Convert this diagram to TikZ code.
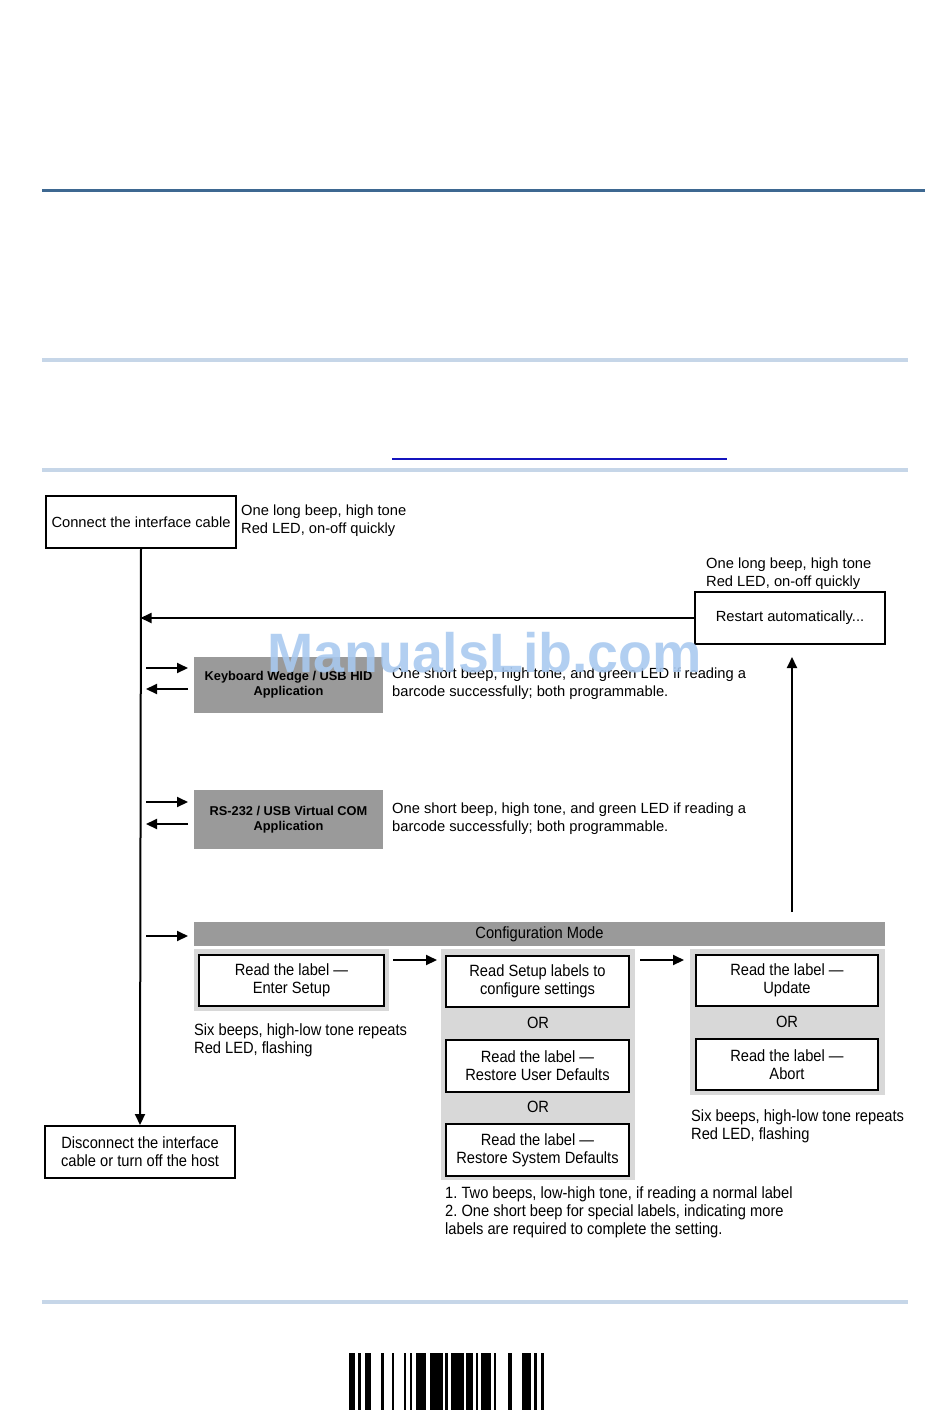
\documentclass[tikz,border=0pt]{standalone}
\usepackage{fontspec}
\setmainfont{Liberation Sans}[Ligatures=TeX]
\newfontfamily\nar{Liberation Sans}[FakeStretch=0.9,Ligatures=TeX]
\usetikzlibrary{arrows.meta}
\definecolor{topblue}{RGB}{62,104,145}
\definecolor{sepblue}{RGB}{198,214,232}
\definecolor{linkblue}{RGB}{20,20,190}
\definecolor{boxgray}{RGB}{154,154,154}
\definecolor{panelgray}{RGB}{216,216,216}
\definecolor{wmblue}{RGB}{168,201,240}
\frenchspacing
\begin{document}
\frenchspacing
\begin{tikzpicture}[x=1pt,y=-1pt,
  up/.style={font=\fontsize{14.7}{18}\selectfont, inner sep=0pt, align=left},
  lo/.style={font=\nar\fontsize{16.3}{18}\selectfont, inner sep=0pt, align=left},
  bigbox/.style={draw, line width=2pt, fill=white, minimum width=190pt, minimum height=52pt, inner sep=0pt, align=center, font=\fontsize{14.7}{18}\selectfont},
  graybox/.style={fill=boxgray, minimum width=189pt, inner sep=0pt, align=center, font=\bfseries\fontsize{12.8}{15}\selectfont},
  panel/.style={fill=panelgray, inner sep=0pt},
  whitebox/.style={draw, line width=1.5pt, fill=white, minimum height=51pt, inner sep=0pt, align=center, font=\nar\fontsize{16.3}{18}\selectfont},
  ortext/.style={inner sep=0pt, font=\nar\fontsize{16.3}{18}\selectfont},
  arr/.style={line width=2pt, -{Triangle[length=11pt,width=10pt]}},
  sep/.style={line width=3.5pt, sepblue}
]
\useasboundingbox (0,0) rectangle (950,1419);
\fill[white] (0,0) rectangle (950,1419);

% page rules
\coordinate (t1) at (42,190.5);  \coordinate (t2) at (925,190.5);
\draw[line width=3pt, topblue] (t1) -- (t2);
\coordinate (s1) at (42,360);  \coordinate (s2) at (908,360);
\draw[sep] (s1) -- (s2);
\coordinate (s3) at (42,470);  \coordinate (s4) at (908,470);
\draw[sep] (s3) -- (s4);
\coordinate (s5) at (42,1302);  \coordinate (s6) at (908,1302);
\draw[sep] (s5) -- (s6);
\coordinate (u1) at (392,459);  \coordinate (u2) at (727,459);
\draw[line width=1.3pt, linkblue] (u1) -- (u2);

% main boxes
\node[bigbox] (conn) at (141,522) {Connect the interface cable};
\node[bigbox, font=\nar\fontsize{16.3}{18}\selectfont] (disc) at (140,1152) {Disconnect the interface\\cable or turn off the host};
\node[bigbox] (restart) at (790,618) {Restart automatically...};

\node[up, anchor=north west] (connt) at (241,504.5) {One long beep, high tone\\Red LED, on-off quickly};
\node[up, anchor=north west] (restt) at (706,557.5) {One long beep, high tone\\Red LED, on-off quickly};

% application boxes
\node[graybox, minimum height=56pt] (kb) at (288.5,685) {Keyboard Wedge / USB HID\\Application};
\node[graybox, minimum height=59pt] (rs) at (288.5,819.5) {RS-232 / USB Virtual COM\\Application};
\node[up, anchor=north west] (kbt) at (392,667.5) {One short beep, high tone, and green LED if reading a\\barcode successfully; both programmable.};
\node[up, anchor=north west] (rst) at (392,802.5) {One short beep, high tone, and green LED if reading a\\barcode successfully; both programmable.};

% configuration mode
\node[fill=boxgray, minimum width=691pt, minimum height=24pt, inner sep=0pt, font=\nar\fontsize{16.3}{18}\selectfont] (cfg) at (539.5,934) {Configuration Mode};
\node[panel, minimum width=195pt, minimum height=62pt] (p1) at (291.5,980) {};
\node[panel, minimum width=194pt, minimum height=231pt] (p2) at (538,1064.5) {};
\node[panel, minimum width=195pt, minimum height=146pt] (p3) at (787.5,1022) {};

\node[whitebox, minimum width=185pt] (ea) at (291.5,980.5) {Read the label —\\Enter Setup};
\node[whitebox, minimum width=183pt] (b1) at (537.5,981.5) {Read Setup labels to\\configure settings};
\node[ortext] (or1) at (538,1023) {OR};
\node[whitebox, minimum width=183pt, minimum height=52pt] (b2) at (537.5,1066) {Read the label —\\Restore User Defaults};
\node[ortext] (or2) at (538,1107) {OR};
\node[whitebox, minimum width=183pt, minimum height=52pt] (b3) at (537.5,1150) {Read the label —\\Restore System Defaults};
\node[whitebox, minimum width=182pt] (c1) at (787,980.5) {Read the label —\\Update};
\node[ortext] (or3) at (787,1022) {OR};
\node[whitebox, minimum width=182pt] (c2) at (787,1064.5) {Read the label —\\Abort};

\node[lo, anchor=north west] (sixa) at (194,1023) {Six beeps, high-low tone repeats\\Red LED, flashing};
\node[lo, anchor=north west] (sixb) at (691,1109) {Six beeps, high-low tone repeats\\Red LED, flashing};
\node[lo, anchor=north west] (notes) at (445,1186) {1. Two beeps, low-high tone, if reading a normal label\\2. One short beep for special labels, indicating more\\labels are required to complete the setting.};

% connectors
\draw[arr] (conn.south) -- (disc.north);
\coordinate (j1) at (140.5,618);
\draw[arr, line width=1.8pt] (restart.west) -- (j1);
\coordinate (upA) at (792,912);
\coordinate (upB) at (792,657);
\draw[arr] (upA) -- (upB);

\coordinate (kbr1) at (146,668);  \coordinate (kbr2) at (188,668);
\draw[arr] (kbr1) -- (kbr2);
\coordinate (kbl1) at (188,689);  \coordinate (kbl2) at (146,689);
\draw[arr] (kbl1) -- (kbl2);
\coordinate (rsr1) at (146,802);  \coordinate (rsr2) at (188,802);
\draw[arr] (rsr1) -- (rsr2);
\coordinate (rsl1) at (188,824);  \coordinate (rsl2) at (146,824);
\draw[arr] (rsl1) -- (rsl2);
\coordinate (cf1) at (146,936);  \coordinate (cf2) at (188,936);
\draw[arr] (cf1) -- (cf2);
\coordinate (pa1) at (393,960);  \coordinate (pa2) at (437,960);
\draw[arr] (pa1) -- (pa2);
\coordinate (pb1) at (640,960);  \coordinate (pb2) at (684,960);
\draw[arr] (pb1) -- (pb2);

% barcode
\foreach \a/\b in {349/354.5,358/361,365/371.3,380.5/384,391.5/394,404/405.7,410/411.5,415.5/426,430/442.6,445/447.6,451/463.5,465.6/472.7,476/478.2,481/490.8,493.7/496.2,508.4/511.7,522.2/531.4,534/537,540.5/544}
  \fill[black] (\a,1353) rectangle (\b,1410);

% watermark
\node[anchor=base west, inner sep=0pt, text=wmblue, opacity=0.88, font=\bfseries\fontsize{55.5}{60}\selectfont] (wm) at (267,672) {ManualsLib.com};
\end{tikzpicture}
\end{document}
